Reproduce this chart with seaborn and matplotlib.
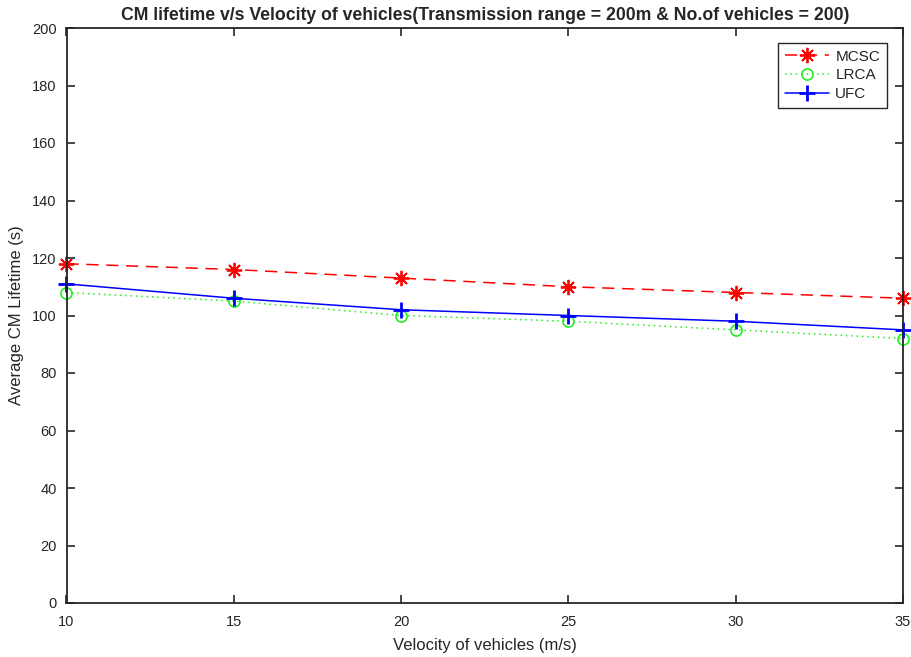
import numpy as np
import pandas as pd
import seaborn as sns
import matplotlib.pyplot as plt

velocity = [10, 15, 20, 25, 30, 35]
mcsc = [118, 116, 113, 110, 108, 106]
lrca = [108, 105, 100, 98, 95, 92]
ufc = [111, 106, 102, 100, 98, 95]

data = pd.DataFrame({"velocity": velocity, "MCSC": mcsc, "LRCA": lrca, "UFC": ufc})
data = data.melt(id_vars="velocity", var_name="scheme", value_name="lifetime")

sns.set_theme(style="white")
plt.rcParams["font.family"] = ["Liberation Sans", "DejaVu Sans"]

fig = plt.figure(figsize=(9.12, 6.57), dpi=100)
ax = fig.add_axes([66.5 / 912, 1 - 603 / 657, 836.5 / 912, 575 / 657])

# MATLAB-like line specs: 'r--*', 'g:o', 'b-+'
styles = {
    "MCSC": dict(color="red", linestyle=(0, (8, 5)), marker=(8, 2, 0), markersize=11,
                 markeredgewidth=1.3, markerfacecolor="red", markeredgecolor="red"),
    "LRCA": dict(color="#22ee22", linestyle=(0, (1, 2.5)), marker="o", markersize=8,
                 markeredgewidth=1.2, markerfacecolor="none", markeredgecolor="#22ee22"),
    "UFC": dict(color="blue", linestyle="-", marker="+", markersize=12,
                markeredgewidth=2.0, markeredgecolor="blue"),
}

for scheme in ["MCSC", "LRCA", "UFC"]:
    sub = data[data["scheme"] == scheme]
    sns.lineplot(data=sub, x="velocity", y="lifetime", ax=ax, label=scheme,
                 linewidth=1.1, clip_on=False, **styles[scheme])

ax.set_xlim(10, 35)
ax.set_ylim(0, 200)
ax.set_xticks(velocity)
ax.set_yticks(np.arange(0, 201, 20))
ax.tick_params(direction="in", length=6, width=1.2, labelsize=10.5, colors="#262626",
               top=True, right=True, bottom=True, left=True)
ax.tick_params(axis="x", pad=9)
ax.tick_params(axis="y", pad=7)
for s in ax.spines.values():
    s.set_color("#262626")
    s.set_linewidth(1.3)

ax.set_xlabel("Velocity of vehicles (m/s)", fontsize=12, color="#262626", labelpad=6)
ax.set_ylabel("Average CM Lifetime (s)", fontsize=12, color="#262626", labelpad=6)
ax.set_title("CM lifetime v/s Velocity of vehicles(Transmission range = 200m & No.of vehicles = 200)",
             fontsize=12.7, fontweight="bold", pad=6)

leg = ax.legend(loc="upper right", bbox_to_anchor=(0.981, 0.974), borderaxespad=0,
                fancybox=False, edgecolor="#262626", framealpha=1, fontsize=11,
                handlelength=2.9, borderpad=0.45, labelspacing=0.3, handletextpad=0.4)
leg.get_frame().set_linewidth(1.0)

fig.savefig("out.png", dpi=100)
plt.close()
